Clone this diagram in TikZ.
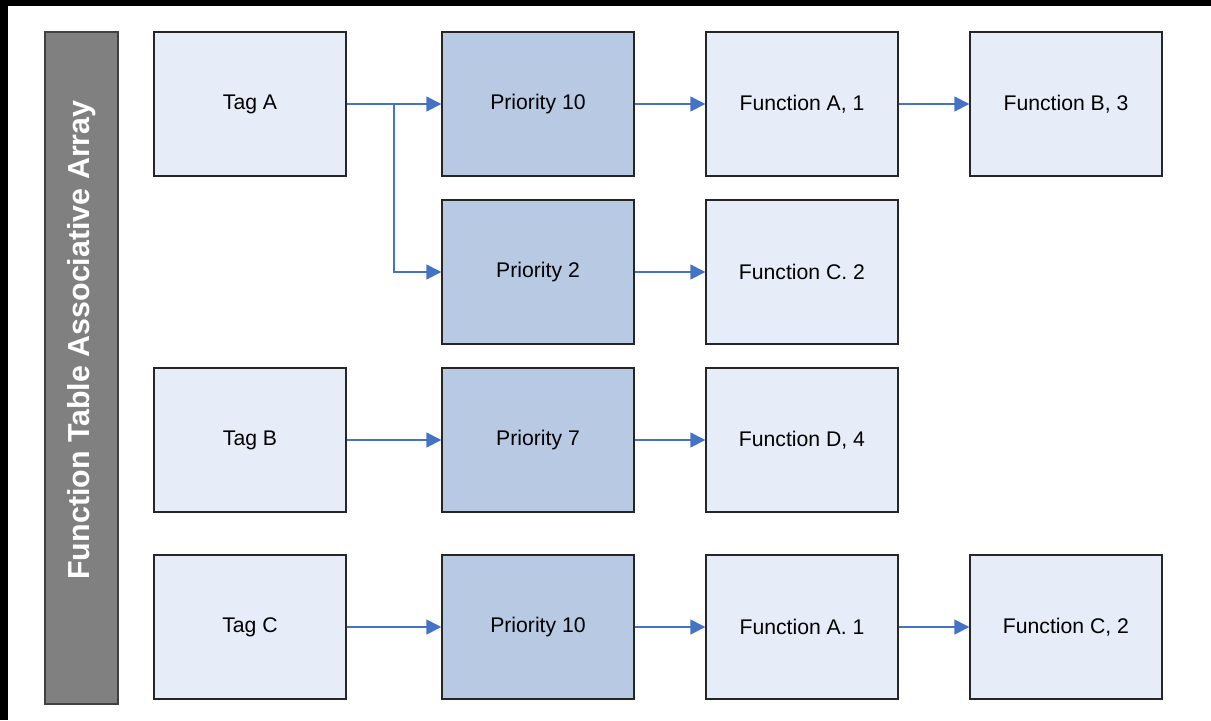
\documentclass[tikz,border=0pt]{standalone}
\usepackage{fontspec}
\setmainfont{Liberation Sans}
\usetikzlibrary{positioning,arrows.meta}
\definecolor{cellfill}{HTML}{E6EDF8}
\definecolor{priofill}{HTML}{B8C9E3}
\definecolor{linkblue}{HTML}{4472C4}
\begin{document}
\begin{tikzpicture}[x=0.5pt,y=-0.5pt,
    cell/.style={draw=black!85,line width=0.7pt,fill=cellfill,minimum width=96pt,minimum height=72pt,inner sep=0pt,font=\fontsize{10.6}{12}\selectfont},
    prio/.style={cell,fill=priofill},
    link/.style={draw=linkblue,line width=0.75pt,-{Triangle[length=7.5pt,width=7.5pt]}}]
    \useasboundingbox (0,0) rectangle (1211,720);
    % black frame edges
    \fill[black] (0,0) rectangle (1211,6);
    \fill[black] (0,0) rectangle (8,720);
    % side bar
    \node[draw=black!75,line width=0.7pt,fill=black!50,minimum width=36.5pt,minimum height=336pt,inner sep=0pt] (bar) at (81.5,368) {};
    \node[rotate=90,text=white,font=\bfseries\fontsize{15.2}{17}\selectfont] (barlabel) at (81.5,340) {Function Table Associative Array};
    % tags
    \node[cell] (tagA) at (250,104) {Tag A};
    \node[cell] (tagB) at (250,440) {Tag B};
    \node[cell] (tagC) at (250,627) {Tag C};
    % priorities
    \node[prio] (prioA) at (538,104) {Priority 10};
    \node[prio] (prioB) at (538,272) {Priority 2};
    \node[prio] (prioC) at (538,440) {Priority 7};
    \node[prio] (prioD) at (538,627) {Priority 10};
    % functions
    \node[cell] (funA) at (802,104) {Function A, 1};
    \node[cell] (funB) at (1066,104) {Function B, 3};
    \node[cell] (funC) at (802,272) {Function C. 2};
    \node[cell] (funD) at (802,440) {Function D, 4};
    \node[cell] (funE) at (802,627) {Function A. 1};
    \node[cell] (funF) at (1066,627) {Function C, 2};
    % links
    \coordinate (split) at (394,104);
    \draw[link] (tagA) -- (prioA);
    \draw[link] (split) |- (prioB);
    \draw[link] (prioA) -- (funA);
    \draw[link] (funA) -- (funB);
    \draw[link] (prioB) -- (funC);
    \draw[link] (tagB) -- (prioC);
    \draw[link] (prioC) -- (funD);
    \draw[link] (tagC) -- (prioD);
    \draw[link] (prioD) -- (funE);
    \draw[link] (funE) -- (funF);
\end{tikzpicture}
\end{document}
